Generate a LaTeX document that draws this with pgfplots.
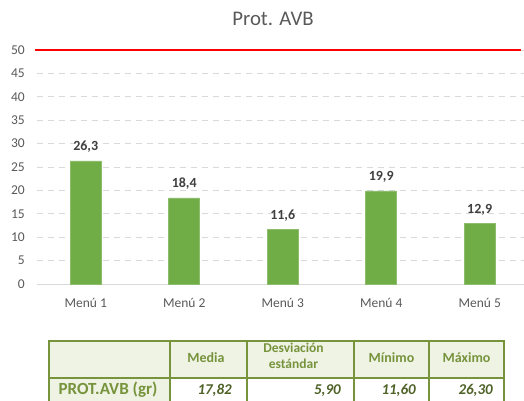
\documentclass[border=0pt]{standalone}
\usepackage{pgfplots}
\pgfplotsset{compat=1.18}
\usepackage{fontspec}
\setmainfont{Carlito}
\definecolor{barg}{HTML}{70AD47}
\definecolor{gridc}{HTML}{D9D9D9}
\definecolor{tickc}{HTML}{595959}
\definecolor{labc}{HTML}{404040}
\definecolor{olive}{HTML}{77933C}
\definecolor{darkolive}{HTML}{4F6228}
\definecolor{headfill}{HTML}{EEF3E4}
\begin{document}
\begin{tikzpicture}[x=1pt,y=1pt]
\useasboundingbox (0,0) rectangle (524,400);
\node[anchor=base, text=tickc, font=\fontsize{20.8}{24}\selectfont] at (273,374) {Prot. AVB};
\begin{axis}[
  at={(36.5pt,116pt)}, anchor=south west,
  scale only axis, width=487.5pt, height=234pt,
  xmin=-0.5, xmax=4.45, ymin=0, ymax=50,
  ytick={0,5,...,50},
  xtick={0,1,2,3,4},
  xticklabels={Menú 1,Menú 2,Menú 3,Menú 4,Menú 5},
  clip=false,
  axis x line*=bottom, axis y line*=left,
  x axis line style={draw=gridc, line width=1pt, -},
  y axis line style={draw=none},
  major tick style={draw=none},
  ymajorgrids,
  grid style={draw=gridc, line width=1pt, dash pattern=on 6pt off 5pt},
  tick label style={text=tickc, font=\fontsize{13.5}{16}\selectfont},
  /pgf/number format/assume math mode=true,
  yticklabel style={anchor=east, inner sep=0pt, xshift=-11.5pt},
  xticklabel style={anchor=base, inner sep=0pt, yshift=-23pt},
]
\addplot[ybar, bar width=31pt, fill=barg, draw=barg!80!white, line width=0.5pt,
  nodes near coords,
  nodes near coords style={anchor=base, yshift=10pt, inner sep=0pt, text=labc, font=\bfseries\fontsize{14}{16}\selectfont,
    /pgf/number format/.cd, fixed, precision=1, fixed zerofill, use comma, assume math mode=true}]
  coordinates {(0,26.3) (1,18.4) (2,11.6) (3,19.9) (4,12.9)};
\addplot[draw=red, line width=2pt] coordinates {(-0.515,50) (4.42,50)};
\end{axis}
% statistics table
\fill[headfill] (49,59) rectangle (504,22);
\fill[headfill] (49,22) rectangle (170,-20);
\draw[olive, line width=1.2pt] (170,59) -- (170,-20);
\draw[olive, line width=1.2pt] (247,59) -- (247,-20);
\draw[olive, line width=1.2pt] (354,59) -- (354,-20);
\draw[olive, line width=1.2pt] (429,59) -- (429,-20);
\draw[olive, line width=2pt] (49,22) -- (504,22);
\draw[olive, line width=2pt] (49,-20) -- (49,59) -- (504,59) -- (504,-20);
\begin{scope}[every node/.style={text=olive, font=\bfseries\fontsize{14}{16}\selectfont, inner sep=0pt}]
\node at (206,42) {Media};
\node[anchor=base, font=\bfseries\fontsize{13.5}{16}\selectfont] at (293.5,48) {Desviación};
\node[anchor=base, font=\bfseries\fontsize{13.5}{16}\selectfont] at (293.5,32) {estándar};
\node at (391.5,42) {Mínimo};
\node at (466.5,42) {Máximo};
\end{scope}
\node[anchor=base, inner sep=0pt, text=olive, font=\bfseries\fontsize{17}{20}\selectfont] at (108,6) {PROT.AVB (gr)};
\begin{scope}[every node/.style={anchor=base east, inner sep=0pt, text=darkolive, font=\bfseries\itshape\fontsize{15}{17}\selectfont}]
\node at (232,6) {17,82};
\node at (341,6) {5,90};
\node at (416,6) {11,60};
\node at (493,6) {26,30};
\end{scope}
\end{tikzpicture}
\end{document}
